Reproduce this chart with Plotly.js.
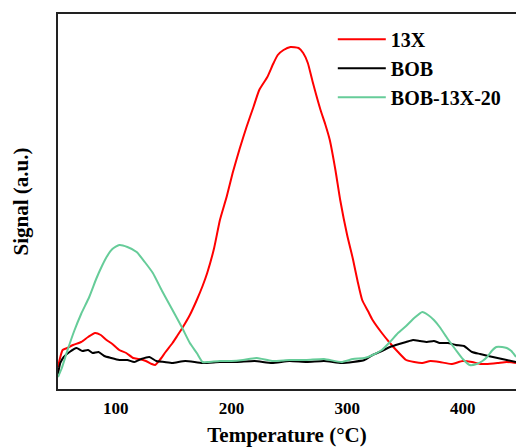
<!DOCTYPE html>
<html>
<head>
<meta charset="utf-8">
<script src="https://cdn.plot.ly/plotly-3.0.1.min.js"></script>
<style>html,body{margin:0;padding:0;background:#fff;}#chart{width:516px;height:447px;}</style>
</head>
<body>
<div id="chart"></div>
<script>
// Temperature (°C) and signal (a.u., arbitrary scale)
const seriesNames = ["13X", "BOB", "BOB-13X-20"];

const temp13X = [50, 52, 54, 58, 63, 70, 76, 82, 87, 92, 97, 103, 109, 115, 120, 126, 131, 134, 138, 143, 149, 153, 158, 164, 170, 175, 179, 185, 190, 196, 201, 207, 213, 219, 224, 231, 236, 240, 245, 251, 258, 262, 266, 270, 277, 281, 285, 290, 294, 300, 305, 309, 313, 318, 322, 330, 337, 344, 351, 358, 365, 372, 380, 390, 400, 408, 415, 420, 430, 438, 446];
const sig13X  = [22, 32, 39, 41, 44, 47, 52, 56, 54, 49, 45, 39, 36, 31, 30, 28, 25, 24, 29, 37, 46, 53, 62, 74, 89, 103, 116, 141, 169, 193, 216, 240, 262, 282, 299, 312, 325, 334, 339, 342, 341, 336, 326, 308, 279, 265, 249, 218, 189, 154, 130, 108, 89, 78, 69, 56, 46, 37, 29, 27, 26, 28, 27, 25, 28, 27, 25, 25, 26, 27, 26];

const tempBOB = [50, 52, 55, 60, 66, 71, 76, 80, 85, 90, 96, 103, 110, 116, 122, 129, 135, 142, 149, 160, 175, 190, 205, 220, 235, 250, 265, 280, 295, 305, 315, 322, 330, 337, 345, 351, 357, 363, 369, 375, 380, 387, 394, 401, 408, 415, 422, 430, 438, 446];
const sigBOB  = [15, 26, 32, 37, 41, 38, 39, 36, 37, 33, 31, 29, 29, 27, 30, 32, 28, 27, 26, 28, 26, 27, 27, 28, 26, 28, 27, 28, 26, 27, 29, 34, 38, 42, 45, 47, 49, 48, 47, 48, 46, 46, 44, 43, 37, 35, 33, 31, 29, 27];

const tempMix = [50, 53, 58, 64, 70, 77, 83, 88, 92, 97, 103, 110, 118, 125, 132, 140, 149, 157, 164, 170, 175, 180, 190, 200, 210, 222, 235, 250, 265, 280, 295, 305, 315, 322, 330, 337, 344, 351, 358, 365, 370, 375, 380, 387, 394, 400, 406, 412, 417, 421, 425, 429, 434, 438, 442, 446];
const sigMix  = [12, 20, 38, 58, 75, 92, 110, 123, 132, 140, 144, 142, 137, 127, 116, 98, 79, 62, 46, 36, 27, 27, 28, 28, 29, 31, 28, 29, 29, 30, 27, 30, 31, 34, 39, 47, 56, 63, 71, 77, 74, 69, 62, 50, 39, 30, 24, 25, 28, 32, 38, 42, 42, 41, 38, 32];

const colors = ["#ff0000", "#000000", "#66cc99"];

const serif = "Liberation Serif";

const lineStyle = c => ({color: c, width: 2, shape: "spline", smoothing: 0.5});

const traces = [
  {x: temp13X, y: sig13X, name: seriesNames[0], mode: "lines", line: lineStyle(colors[0])},
  {x: tempBOB, y: sigBOB, name: seriesNames[1], mode: "lines", line: lineStyle(colors[1])},
  {x: tempMix, y: sigMix, name: seriesNames[2], mode: "lines", line: lineStyle(colors[2])}
];

const layout = {
  width: 516, height: 447,
  margin: {l: 58, r: 0, t: 14, b: 58},
  paper_bgcolor: "#fff", plot_bgcolor: "#fff",
  showlegend: true,
  legend: {
    x: 0.6, y: 0.985, xanchor: "left", yanchor: "top",
    bgcolor: "rgba(0,0,0,0)",
    font: {family: serif, size: 20, color: "#000", weight: "bold"},
    itemwidth: 48, tracegroupgap: 0
  },
  xaxis: {
    range: [50, 446],
    tickvals: [100, 200, 300, 400],
    ticktext: ["100", "200", "300", "400"],
    ticks: "",
    ticklabelstandoff: 3,
    showgrid: false, zeroline: false,
    showline: true, linecolor: "#222", linewidth: 2, mirror: true,
    tickfont: {family: serif, size: 17, color: "#000", weight: "bold"},
    title: {text: "Temperature (°C)", font: {family: serif, size: 21, color: "#000", weight: "bold"}, standoff: 12}
  },
  yaxis: {
    range: [0, 375],
    showticklabels: false, ticks: "",
    showgrid: false, zeroline: false,
    showline: true, linecolor: "#222", linewidth: 2,
    title: {text: "Signal (a.u.)", font: {family: serif, size: 21, color: "#000", weight: "bold"}, standoff: 22}
  }
};

Plotly.newPlot("chart", traces, layout, {displayModeBar: false, staticPlot: true});
</script>
</body>
</html>
